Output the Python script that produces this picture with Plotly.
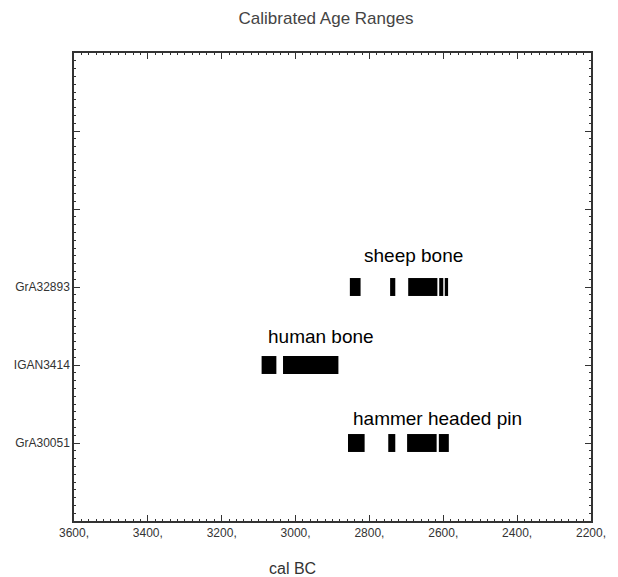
import plotly.graph_objects as go

# Calibrated date ranges (cal BC) per sample: (start, end) of each block
samples = ["GrA30051", "IGAN3414", "GrA32893"]
sample_rows = [1, 2, 3]
labels = ["hammer headed pin", "human bone", "sheep bone"]

hammer_start = [2858, 2749, 2698, 2612]
hammer_end = [2813, 2730, 2618, 2585]

human_start = [3092, 3034]
human_end = [3052, 2884]

sheep_start = [2853, 2744, 2695, 2611, 2596]
sheep_end = [2824, 2730, 2616, 2600, 2587]

x_ticks = [3600, 3400, 3200, 3000, 2800, 2600, 2400, 2200]
x_tick_text = [f"{v}," for v in x_ticks]

ranges = [
    (hammer_start, hammer_end),
    (human_start, human_end),
    (sheep_start, sheep_end),
]

fig = go.Figure()
for row, (starts, ends), name in zip(sample_rows, ranges, samples):
    fig.add_trace(go.Bar(
        orientation="h",
        y=[row] * len(starts),
        base=starts,
        x=[e - s for s, e in zip(starts, ends)],
        width=0.23,
        marker=dict(color="black", line=dict(width=0)),
        name=name,
        showlegend=False,
        hoverinfo="skip",
    ))

font = "Liberation Sans, Arial, sans-serif"

fig.update_layout(
    width=618,
    height=577,
    margin=dict(l=74, r=16, t=53, b=56),
    paper_bgcolor="white",
    plot_bgcolor="white",
    barmode="overlay",
    font=dict(family=font, color="#333"),
    title=dict(
        text="Calibrated Age Ranges",
        x=326 / 618, xref="container", xanchor="center",
        y=1 - 18 / 577, yref="container", yanchor="middle",
        font=dict(size=17, color="#444", family=font),
    ),
    xaxis=dict(
        range=[3600, 2200],
        tickvals=x_ticks,
        ticktext=x_tick_text,
        ticks="inside",
        ticklen=6,
        tickwidth=1,
        tickcolor="#333",
        minor=dict(dtick=20, ticks="inside", ticklen=2, tickcolor="#333", showgrid=False),
        showline=True,
        linecolor="#333",
        linewidth=1.5,
        mirror="allticks",
        showgrid=False,
        zeroline=False,
        tickfont=dict(size=12, color="#333", family=font),
    ),
    yaxis=dict(
        range=[0, 6],
        tickvals=[1, 2, 3, 4, 5],
        ticktext=samples + ["", ""],
        ticks="inside",
        ticklen=6,
        tickwidth=1,
        tickcolor="#333",
        minor=dict(dtick=0.1, ticks="inside", ticklen=2, tickcolor="#333", showgrid=False),
        showline=True,
        linecolor="#333",
        linewidth=1.5,
        mirror="allticks",
        showgrid=False,
        zeroline=False,
        ticklabelstandoff=0,
        tickfont=dict(size=12, color="#333", family=font),
    ),
)

# Sample descriptions above each row of blocks
label_pos = [(2850, 1.32), (3080, 2.37), (2821, 3.41)]
for text, (lx, ly) in zip(labels, label_pos):
    fig.add_annotation(
        x=lx, y=ly, xref="x", yref="y",
        text=text, showarrow=False,
        xanchor="left", yanchor="middle",
        font=dict(size=19, color="black", family=font),
    )

# x-axis caption
fig.add_annotation(
    x=(297 - 74) / 528, y=(521 - 568) / 468,
    xref="paper", yref="paper",
    text="cal BC", showarrow=False,
    xanchor="center", yanchor="middle",
    font=dict(size=16, color="#333", family=font),
)

fig.write_html("out.html")
